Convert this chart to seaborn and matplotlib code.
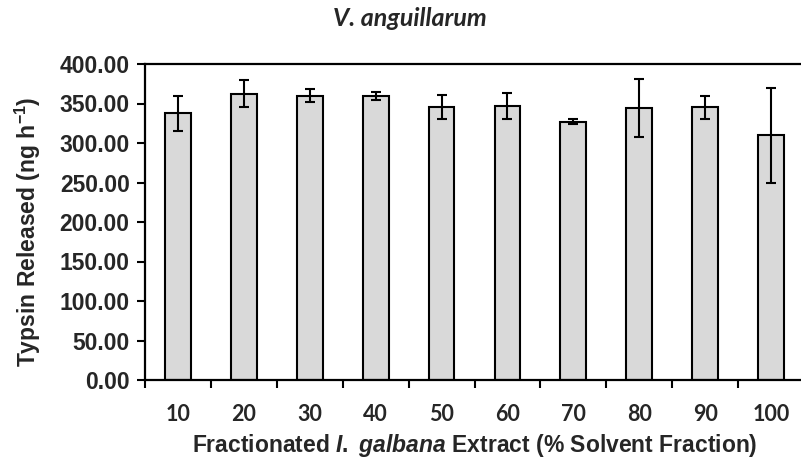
import matplotlib
matplotlib.use("Agg")
import matplotlib.pyplot as plt
import seaborn as sns
import pandas as pd
import numpy as np

# Trypsin release per solvent fraction
fractions = ["10", "20", "30", "40", "50", "60", "70", "80", "90", "100"]
trypsin = [337.5, 362.5, 360.0, 359.5, 345.5, 347.0, 327.0, 344.0, 345.5, 310.0]
trypsin_err = [22.0, 17.0, 8.0, 5.5, 15.0, 16.5, 3.0, 37.0, 14.5, 60.0]
y_ticks = [0, 50, 100, 150, 200, 250, 300, 350, 400]

sns.set_theme(style="white")
plt.rcParams["font.family"] = ["Liberation Sans", "DejaVu Sans"]
plt.rcParams["mathtext.fontset"] = "custom"
plt.rcParams["mathtext.rm"] = "Liberation Sans:bold"
plt.rcParams["mathtext.it"] = "Liberation Sans:italic:bold"
plt.rcParams["mathtext.bf"] = "Liberation Sans:bold"

df = pd.DataFrame({"fraction": fractions, "trypsin": trypsin})

fig = plt.figure(figsize=(8.01, 4.59), dpi=100)
ax = fig.add_axes([145 / 801, 1 - 380 / 459, 659 / 801, (380 - 64) / 459])

sns.barplot(data=df, x="fraction", y="trypsin", order=fractions,
            color="#d9d9d9", saturation=1, width=0.39,
            edgecolor="black", linewidth=1.5, errorbar=None, ax=ax)

xpos = np.arange(len(fractions))
ax.errorbar(xpos, trypsin, yerr=trypsin_err, fmt="none", ecolor="black",
            elinewidth=1.5, capsize=3.6, capthick=1.5, zorder=5)

ax.set_xlim(-0.5, len(fractions) - 0.5)
ax.set_ylim(0, 400)
ax.set_yticks(y_ticks)
ax.set_yticklabels([f"{v:.2f}" for v in y_ticks], fontsize=16.5, fontweight="bold")

# category labels centred, tick marks on the category boundaries
ax.set_xticks(xpos)
ax.set_xticklabels(fractions, family=["Lato", "DejaVu Sans"], fontsize=15.5, fontweight="bold")
ax.set_xticks(np.arange(-0.5, len(fractions)), minor=True)
ax.tick_params(axis="x", which="major", length=0, pad=17)
ax.tick_params(axis="x", which="minor", length=5.5, width=1.5, direction="out",
               bottom=True, color="black")
ax.tick_params(axis="y", which="major", length=6, width=1.5, direction="out",
               left=True, color="black", pad=5)

for side in ["left", "bottom", "top", "right"]:
    ax.spines[side].set_visible(True)
    ax.spines[side].set_color("black")
    ax.spines[side].set_linewidth(1.6)

ax.set_xlabel("Fractionated $\\mathit{I.}$ $\\mathit{galbana}$ Extract (% Solvent Fraction)",
              fontsize=16.5, fontweight="bold", labelpad=5)
ax.set_ylabel("Typsin Released (ng h$^{-1}$)", fontsize=16.5, fontweight="bold")
ax.yaxis.set_label_coords((43 - 145) / 659, 0.47)

fig.text(410 / 801, 1 - 19 / 459, "V. anguillarum", family=["Lato", "DejaVu Sans"],
         style="italic", fontweight="bold", fontsize=18, ha="center", va="center")

fig.savefig("out.png", dpi=100)
